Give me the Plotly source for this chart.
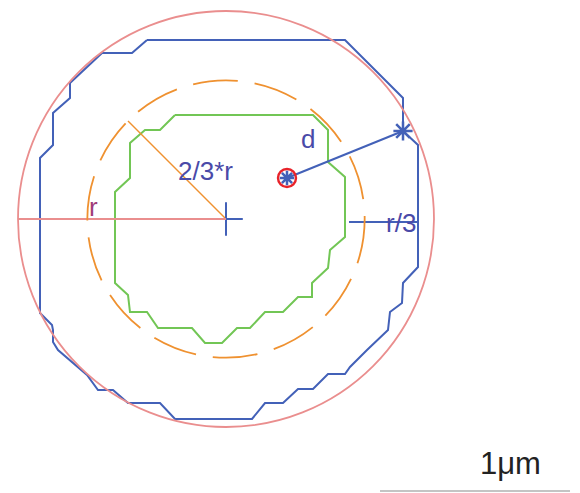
import numpy as np
import plotly.graph_objects as go

# Diagram geometry (pixel-like coordinates, y downward)
center = (226, 219)
r_outer = 208
r_inner = r_outer * 2 / 3

blue_x = [147, 345, 403, 403, 418, 418, 403, 402, 390, 388, 367, 350, 345, 328, 313, 298, 283, 265, 252, 175,
          160, 128, 113, 98, 87, 58, 53, 53, 52, 40, 40, 53, 53, 70, 70, 92, 102, 132, 147]
blue_y = [40, 40, 98, 131, 145, 267, 283, 303, 312, 330, 350, 367, 374, 374, 389, 389, 403, 403, 419, 419,
          403, 403, 390, 390, 375, 350, 342, 330, 325, 313, 158, 145, 113, 98, 83, 62, 53, 53, 40]

green_x = [175, 313, 328, 328, 345, 345, 330, 328, 312, 312, 298, 283, 265, 250, 237, 222, 205, 192, 158, 147,
           130, 128, 115, 115, 130, 130, 145, 160, 175]
green_y = [115, 115, 130, 162, 177, 237, 250, 268, 283, 297, 297, 312, 312, 328, 328, 343, 343, 328, 328, 312,
           312, 295, 283, 192, 178, 143, 130, 130, 115]

point_p = (287, 178)   # red circled point
point_q = (403, 131)   # point on boundary
r3_x = [349, 418]
r3_y = [222, 222]
diag_end = (128, 121)
scale_x = [380, 570]
scale_y = [491, 491]

BLUE = "#4361b8"
GREEN = "#72c655"
ORANGE = "#ef9130"
PINK = "#ea8e8e"
RED = "#e8232a"
LABEL = "#4a4aa8"

fig = go.Figure()

cx, cy = center
fig.add_shape(type="circle", x0=cx - r_outer, x1=cx + r_outer, y0=cy - r_outer, y1=cy + r_outer,
              line=dict(color=PINK, width=1.8), layer="above")
fig.add_shape(type="circle", x0=cx - r_inner, x1=cx + r_inner, y0=cy - r_inner, y1=cy + r_inner,
              line=dict(color=ORANGE, width=1.8, dash="45px,17px"), layer="above")

fig.add_trace(go.Scatter(x=blue_x, y=blue_y, mode="lines", line=dict(color=BLUE, width=2)))
fig.add_trace(go.Scatter(x=green_x, y=green_y, mode="lines", line=dict(color=GREEN, width=2)))

fig.add_trace(go.Scatter(x=[cx, diag_end[0]], y=[cy, diag_end[1]], mode="lines",
                         line=dict(color=ORANGE, width=1.5)))
fig.add_trace(go.Scatter(x=[cx], y=[cy], mode="markers",
                         marker=dict(symbol="cross-thin-open", size=24, color=BLUE,
                                     line=dict(color=BLUE, width=2))))
fig.add_trace(go.Scatter(x=[cx - r_outer, cx], y=[cy, cy], mode="lines", line=dict(color=PINK, width=2)))
fig.add_trace(go.Scatter(x=r3_x, y=r3_y, mode="lines", line=dict(color=BLUE, width=2)))
fig.add_trace(go.Scatter(x=[point_p[0], point_q[0]], y=[point_p[1], point_q[1]], mode="lines",
                         line=dict(color=BLUE, width=2)))
fig.add_trace(go.Scatter(x=[point_p[0]], y=[point_p[1]], mode="markers",
                         marker=dict(symbol="circle-open", size=18, color=RED,
                                     line=dict(color=RED, width=2.4))))
fig.add_trace(go.Scatter(x=[point_p[0]], y=[point_p[1]], mode="markers",
                         marker=dict(symbol="asterisk-open", size=12, color=BLUE,
                                     line=dict(color=BLUE, width=2.5))))
fig.add_trace(go.Scatter(x=[point_q[0]], y=[point_q[1]], mode="markers",
                         marker=dict(symbol="asterisk-open", size=16, color=BLUE,
                                     line=dict(color=BLUE, width=2.5))))
fig.add_trace(go.Scatter(x=scale_x, y=scale_y, mode="lines", line=dict(color="#b0b0b0", width=1.5)))

font = "Liberation Sans, Arial, sans-serif"
labels = [
    ("r", 93, 207, "#a03c78", 26),
    ("2/3*r", 205, 171, LABEL, 26),
    ("d", 308, 139, LABEL, 26),
    ("r/3", 401, 223, LABEL, 26),
    ("1μm", 510, 463, "#222222", 31),
]
for txt, x, y, col, sz in labels:
    fig.add_annotation(x=x, y=y, text=txt, showarrow=False, xanchor="center", yanchor="middle",
                       font=dict(family=font, size=sz, color=col))

# The page body has an 8px margin: shift the visible range so page pixels match coordinates
OFF = 8
fig.update_layout(
    width=580 - OFF, height=493 - OFF, margin=dict(l=0, r=0, t=0, b=0),
    paper_bgcolor="white", plot_bgcolor="white", showlegend=False,
    xaxis=dict(range=[OFF, 580], visible=False, fixedrange=True),
    yaxis=dict(range=[493, OFF], visible=False, fixedrange=True),
)
fig.write_html("out.html")
